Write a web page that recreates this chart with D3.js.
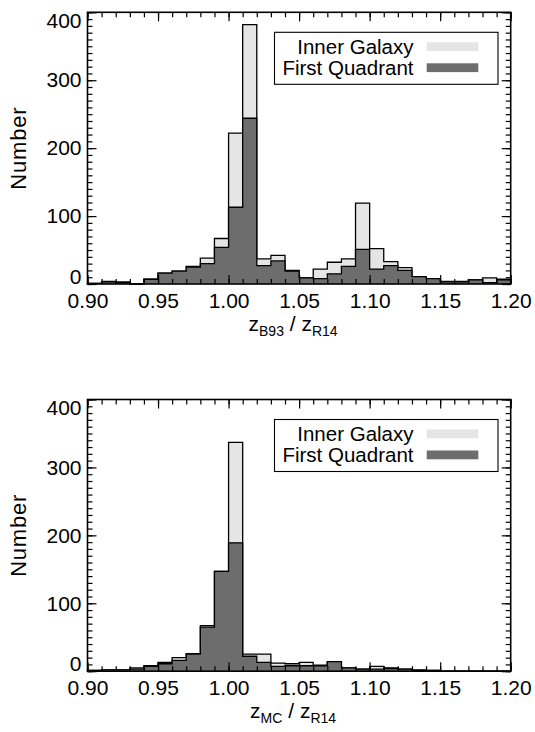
<!DOCTYPE html>
<html>
<head>
<meta charset="utf-8">
<script src="https://cdn.jsdelivr.net/npm/d3@7/dist/d3.min.js"></script>
<style>
  body { margin: 0; background: #fff; }
  svg { display: block; font-family: "Liberation Sans", Arial, Helvetica, sans-serif; }
</style>
</head>
<body>
<svg id="chart" width="535" height="732"></svg>
<script>
// lower edge of every histogram bin (bin width 0.01)
const binLow = [0.90, 0.91, 0.92, 0.93, 0.94, 0.95, 0.96, 0.97, 0.98, 0.99,
                1.00, 1.01, 1.02, 1.03, 1.04, 1.05, 1.06, 1.07, 1.08, 1.09,
                1.10, 1.11, 1.12, 1.13, 1.14, 1.15, 1.16, 1.17, 1.18, 1.19];
const binWidth = 0.01;

// z_B93 / z_R14
const b93Inner = [1, 4, 3, 0, 7, 16, 19, 26, 38, 67, 222, 382, 37, 42, 20, 9, 22, 32, 37, 119,
                  52, 33, 24, 11, 8, 4, 4, 6, 9, 7];
const b93First = [1, 3, 2, 0, 7, 16, 19, 25, 30, 54, 113, 244, 27, 34, 19, 9, 8, 15, 26, 51,
                  22, 27, 20, 11, 8, 3, 3, 6, 2, 6];

// z_MC / z_R14
const mcInner = [1, 2, 2, 5, 8, 13, 20, 26, 67, 147, 337, 25, 25, 12, 11, 13, 9, 14, 5, 3,
                 7, 5, 3, 2, 1, 0, 0, 0, 0, 0];
const mcFirst = [1, 2, 2, 3, 7, 11, 16, 25, 65, 147, 189, 22, 13, 7, 8, 8, 8, 14, 5, 3,
                 3, 4, 3, 1, 1, 0, 0, 0, 0, 0];

const xTicks = [0.90, 0.95, 1.00, 1.05, 1.10, 1.15, 1.20];
const yTicks = [0, 100, 200, 300, 400];
const legendLabels = ['Inner Galaxy', 'First Quadrant'];
const seriesColors = ['#e5e5e5', '#6d6d6d'];

const left = 87.5, right = 510.7, panelHeight = 271.7;
const fontFamily = '"Liberation Sans", Arial, Helvetica, sans-serif';

const svg = d3.select('#chart');
svg.append('rect').attr('width', 535).attr('height', 732).attr('fill', '#fff');

const x = d3.scaleLinear().domain([0.90, 1.20]).range([left, right]);

function stepPoints(values) {
  const pts = [[binLow[0], 0]];
  values.forEach((v, i) => {
    pts.push([binLow[i], v]);
    pts.push([binLow[i] + binWidth, v]);
  });
  pts.push([binLow[binLow.length - 1] + binWidth, 0]);
  return pts;
}

function drawPanel(top, series, sub1, sub2) {
  const bottom = top + panelHeight;
  const y = d3.scaleLinear().domain([0, 400]).range([bottom, top]);
  const g = svg.append('g');

  const area = d3.area().x(d => x(d[0])).y0(y(0)).y1(d => y(d[1]));
  const line = d3.line().x(d => x(d[0])).y(d => y(d[1]));

  // light histogram first, dark one on top
  series.forEach((vals, k) => {
    const pts = stepPoints(vals);
    g.append('path').attr('d', area(pts)).attr('fill', seriesColors[k]);
    g.append('path').attr('d', line(pts))
      .attr('fill', 'none').attr('stroke', '#000').attr('stroke-width', 1.3);
  });

  const minorX = binLow.concat([1.20]);
  const minorY = d3.range(0, 401, 10);

  function tickAxis(axis, transform) {
    const a = g.append('g').attr('transform', transform).call(axis);
    a.select('.domain').remove();
    a.selectAll('line').attr('stroke', '#000').attr('stroke-width', 1.2);
    return a;
  }

  // minor ticks, pointing inward
  tickAxis(d3.axisBottom(x).tickValues(minorX).tickSize(-5).tickFormat(''), `translate(0,${bottom})`);
  tickAxis(d3.axisTop(x).tickValues(minorX).tickSize(-5).tickFormat(''), `translate(0,${top})`);
  tickAxis(d3.axisLeft(y).tickValues(minorY).tickSize(-5).tickFormat(''), `translate(${left},0)`);
  tickAxis(d3.axisRight(y).tickValues(minorY).tickSize(-5).tickFormat(''), `translate(${right},0)`);

  // major ticks + labels
  const xb = tickAxis(d3.axisBottom(x).tickValues(xTicks).tickSize(-9).tickPadding(9)
    .tickFormat(d3.format('.2f')), `translate(0,${bottom})`);
  xb.selectAll('text').attr('fill', '#000').attr('font-size', 21).attr('font-family', fontFamily);
  tickAxis(d3.axisTop(x).tickValues(xTicks).tickSize(-9).tickFormat(''), `translate(0,${top})`);
  const yl = tickAxis(d3.axisLeft(y).tickValues(yTicks).tickSize(-9).tickPadding(6)
    .tickFormat(d3.format('d')), `translate(${left},0)`);
  yl.selectAll('text').attr('fill', '#000').attr('font-size', 21).attr('font-family', fontFamily)
    .attr('y', d => d === 0 ? -7 : (d === 400 ? 8 : 0));
  tickAxis(d3.axisRight(y).tickValues(yTicks).tickSize(-9).tickFormat(''), `translate(${right},0)`);

  // frame
  g.append('rect').attr('x', left).attr('y', top)
    .attr('width', right - left).attr('height', panelHeight)
    .attr('fill', 'none').attr('stroke', '#000').attr('stroke-width', 1.6);

  // y title
  g.append('text')
    .attr('transform', `translate(26,${(top + bottom) / 2}) rotate(-90)`)
    .attr('text-anchor', 'middle').attr('font-size', 22).attr('letter-spacing', 0.8)
    .text('Number');

  // x title
  const xt = g.append('text').attr('x', (left + right) / 2 - 6).attr('y', bottom + 47)
    .attr('text-anchor', 'middle').attr('font-size', 21);
  xt.append('tspan').text('z');
  xt.append('tspan').attr('font-size', 14).attr('dy', 5).text(sub1);
  xt.append('tspan').attr('dy', -5).text(' / z');
  xt.append('tspan').attr('font-size', 14).attr('dy', 5).text(sub2);

  // legend
  const lg = g.append('g');
  lg.append('rect').attr('x', left + 187).attr('y', top + 20)
    .attr('width', right - 12.7 - (left + 187)).attr('height', 52)
    .attr('fill', '#fff').attr('stroke', '#000').attr('stroke-width', 1.1);
  legendLabels.forEach((lab, k) => {
    const cy = top + 34.5 + k * 21;
    lg.append('text').attr('x', 413.5).attr('y', cy + 7.3)
      .attr('text-anchor', 'end').attr('font-size', 20.5).text(lab);
    lg.append('rect').attr('x', 426.7).attr('y', cy - 4.5)
      .attr('width', 51.6).attr('height', 8.8).attr('fill', seriesColors[k]);
  });
}

drawPanel(12.3, [b93Inner, b93First], 'B93', 'R14');
drawPanel(399.5, [mcInner, mcFirst], 'MC', 'R14');
</script>
</body>
</html>
